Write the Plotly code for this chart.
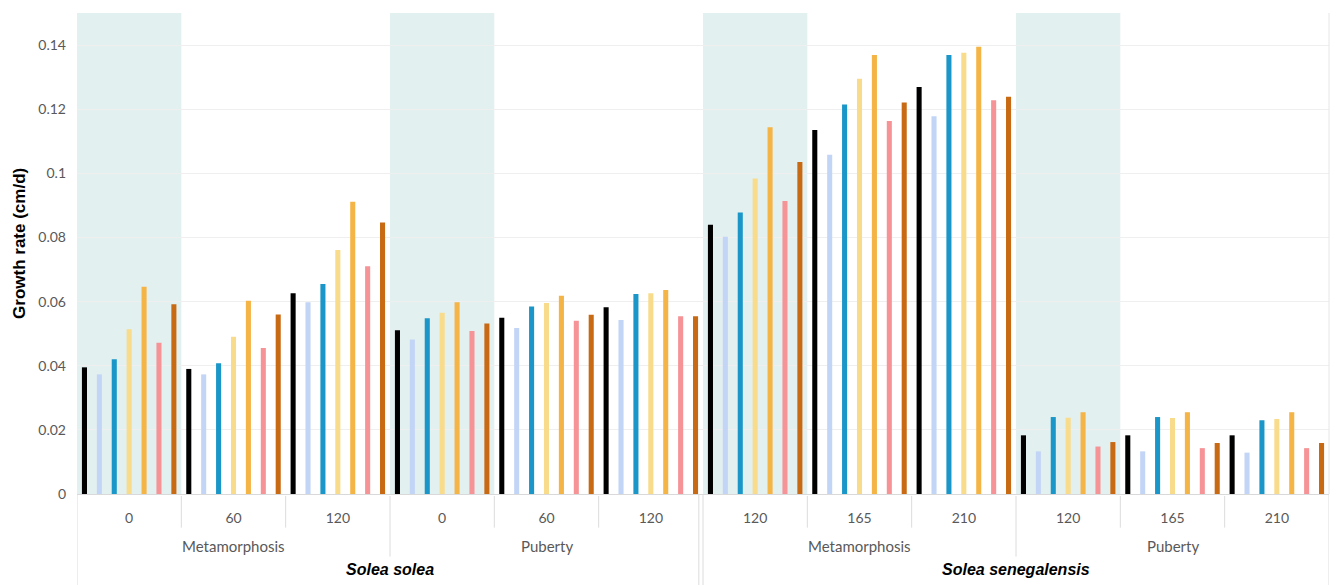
import plotly.graph_objects as go

# Time points (days) per group, stage blocks and species blocks
timepoints = ["0", "60", "120", "0", "60", "120", "120", "165", "210", "120", "165", "210"]
stages = ["Metamorphosis", "Puberty", "Metamorphosis", "Puberty"]
species = ["Solea solea", "Solea senegalensis"]

# Growth rate (cm/d) of the seven series for each of the 12 groups
s1 = [0.0395, 0.0390, 0.0626, 0.0511, 0.0550, 0.0582, 0.0840, 0.1135, 0.1269, 0.0183, 0.0183, 0.0183]
s2 = [0.0373, 0.0373, 0.0598, 0.0482, 0.0518, 0.0543, 0.0802, 0.1058, 0.1178, 0.0133, 0.0133, 0.0129]
s3 = [0.0420, 0.0408, 0.0655, 0.0548, 0.0585, 0.0624, 0.0878, 0.1215, 0.1369, 0.0240, 0.0240, 0.0230]
s4 = [0.0514, 0.0490, 0.0761, 0.0565, 0.0596, 0.0626, 0.0984, 0.1295, 0.1376, 0.0238, 0.0237, 0.0234]
s5 = [0.0646, 0.0603, 0.0911, 0.0598, 0.0618, 0.0636, 0.1144, 0.1369, 0.1395, 0.0255, 0.0255, 0.0255]
s6 = [0.0472, 0.0455, 0.0710, 0.0508, 0.0540, 0.0554, 0.0914, 0.1163, 0.1228, 0.0148, 0.0143, 0.0143]
s7 = [0.0592, 0.0560, 0.0847, 0.0532, 0.0559, 0.0554, 0.1035, 0.1221, 0.1239, 0.0162, 0.0159, 0.0159]

series = [s1, s2, s3, s4, s5, s6, s7]
colors = ["#000000", "#c3d5f6", "#1a96c8", "#f8dc8b", "#f5b446", "#f59396", "#c86a14"]

x = list(range(len(timepoints)))
shaded_groups = [0, 3, 6, 9]

fig = go.Figure()
for vals, col in zip(series, colors):
    fig.add_trace(go.Bar(x=x, y=vals, marker_color=col, marker_line_width=0,
                         showlegend=False))

shapes = []
# shaded first group of every stage block
for g in shaded_groups:
    shapes.append(dict(type="rect", xref="x", yref="paper", x0=g - 0.5, x1=g + 0.5,
                       y0=0, y1=1, fillcolor="#e3f0f0", line_width=0, layer="below"))

sep_col = "#dcdcdc"
# separators between time points
for b in range(1, 12):
    if b % 3 == 0:
        continue
    shapes.append(dict(type="line", xref="x", yref="paper", x0=b - 0.5, x1=b - 0.5,
                       y0=-0.004, y1=-0.07, line=dict(color=sep_col, width=1)))
# separators between stages
for b in [3, 9]:
    shapes.append(dict(type="line", xref="x", yref="paper", x0=b - 0.5, x1=b - 0.5,
                       y0=-0.004, y1=-0.13, line=dict(color=sep_col, width=1)))
# species borders
for b in [-0.5, 11.5]:
    shapes.append(dict(type="line", xref="x", yref="paper", x0=b, x1=b,
                       y0=0, y1=-0.19, line=dict(color=sep_col, width=1)))
for xx in [5.46, 5.5]:
    shapes.append(dict(type="line", xref="x", yref="paper", x0=xx, x1=xx,
                       y0=0, y1=-0.19, line=dict(color=sep_col, width=1)))
# right frame line
shapes.append(dict(type="line", xref="paper", yref="paper", x0=1.0, x1=1.0,
                   y0=0, y1=1.0, line=dict(color="#e6e6e6", width=1)))

annotations = []
for i, st in enumerate(stages):
    annotations.append(dict(xref="x", yref="paper", x=3 * i + 1, y=-0.108, yanchor="middle",
                            text=st, showarrow=False,
                            font=dict(size=15, color="#595959",
                                      family="Lato, Noto Sans, sans-serif")))
for i, sp in enumerate(species):
    annotations.append(dict(xref="x", yref="paper", x=6 * i + 2.5, y=-0.156, yanchor="middle",
                            text="<b><i>" + sp + "</i></b>", showarrow=False,
                            font=dict(size=16, color="#000000",
                                      family="Liberation Sans, Arial, sans-serif")))
annotations.append(dict(xref="paper", yref="paper", x=-0.0455, y=0.52,
                        xanchor="center", yanchor="middle",
                        text="<b>Growth rate (cm/d)</b>", textangle=-90, showarrow=False,
                        font=dict(size=17, color="#000000",
                                  family="Liberation Sans, Arial, sans-serif")))

ytick_vals = [0, 0.02, 0.04, 0.06, 0.08, 0.1, 0.12, 0.14]
ytick_text = ["0", "0.02", "0.04", "0.06", "0.08", "0.1", "0.12", "0.14"]

fig.update_layout(
    width=1339, height=585,
    margin=dict(l=77, r=10, t=13, b=91),
    paper_bgcolor="white", plot_bgcolor="rgba(0,0,0,0)",
    barmode="group", bargap=0.0, bargroupgap=0.66,
    shapes=shapes, annotations=annotations,
    font=dict(family="Lato, Noto Sans, sans-serif", color="#595959", size=14),
    xaxis=dict(range=[-0.5, 11.5], tickmode="array", tickvals=x, ticktext=timepoints,
               showgrid=False, zeroline=False, showline=True, linecolor="#d9d9d9",
               ticks="", ticklabelstandoff=11, tickfont=dict(size=14, color="#595959")),
    yaxis=dict(range=[0, 0.15], tickmode="array", tickvals=ytick_vals, ticktext=ytick_text,
               showgrid=True, gridcolor="#efefef", gridwidth=1, zeroline=False,
               showline=False, ticks="", ticklabelstandoff=10,
               tickfont=dict(size=14, color="#595959")),
)

fig.write_html("out.html")
